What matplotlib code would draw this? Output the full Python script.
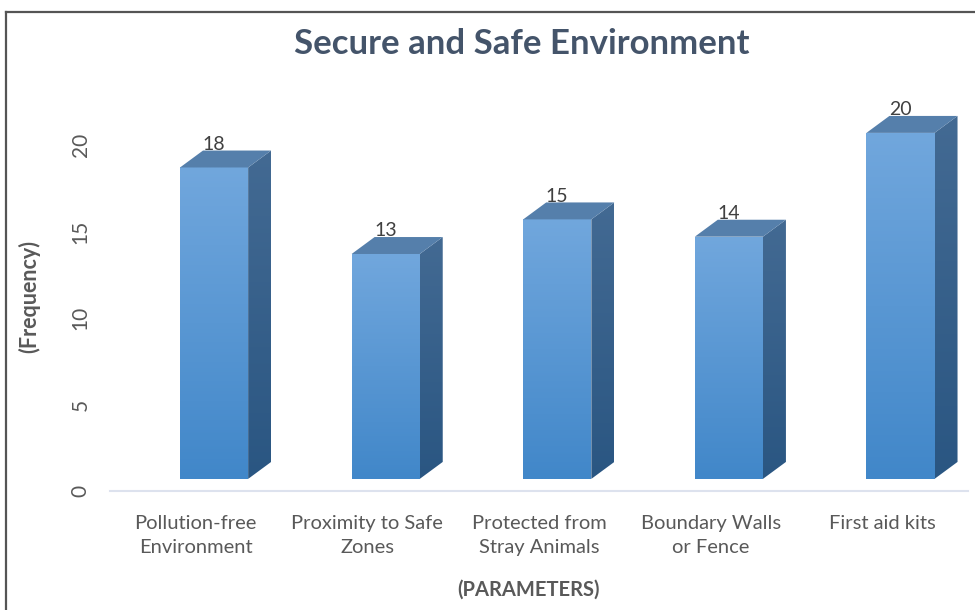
import numpy as np
import matplotlib
matplotlib.use("Agg")
import matplotlib.pyplot as plt
from matplotlib.patches import Polygon
from matplotlib.lines import Line2D

categories = ["Pollution-free\nEnvironment", "Proximity to Safe\nZones",
              "Protected from\nStray Animals", "Boundary Walls\nor Fence", "First aid kits"]
values = [18, 13, 15, 14, 20]
yticks = [0, 5, 10, 15, 20]

plt.rcParams['font.family'] = ['Lato', 'DejaVu Sans']

W, H = 975, 610
fig = plt.figure(figsize=(W / 100, H / 100), dpi=100)

# axes in pixel coords
ax_l, ax_r, ax_b, ax_t = 110, 968, 491, 100
ax = fig.add_axes([ax_l / W, 1 - ax_b / H, (ax_r - ax_l) / W, (ax_b - ax_t) / H])
px_per_unit = 17.3
ax.set_xlim(-0.5, len(values) - 0.5)
ax.set_ylim(0, (ax_b - ax_t) / px_per_unit)

# 3D geometry (in data units)
f_left, f_right = -0.092, 0.305
y0 = 0.70
ddx, ddy = 0.134, 0.98

def grad_fill(poly_xy, c_top, c_bot, ymin, ymax, xmin, xmax, zorder=2):
    poly = Polygon(poly_xy, closed=True, facecolor='none', edgecolor='none')
    ax.add_patch(poly)
    n = 256
    c1 = np.array(matplotlib.colors.to_rgb(c_top))
    c2 = np.array(matplotlib.colors.to_rgb(c_bot))
    t = np.linspace(0, 1, n)[:, None]
    img = (c1 * (1 - t) + c2 * t)[:, None, :]
    im = ax.imshow(img, extent=[xmin, xmax, ymin, ymax], origin='upper',
                   aspect='auto', zorder=zorder, interpolation='bilinear')
    im.set_clip_path(poly)

for i, v in enumerate(values):
    xl, xr = i + f_left, i + f_right
    yb, yt = y0, y0 + v
    # front face
    grad_fill([(xl, yb), (xr, yb), (xr, yt), (xl, yt)], '#71a7dd', '#4187c9',
              yb, yt, xl, xr)
    # right face
    grad_fill([(xr, yb), (xr + ddx, yb + ddy), (xr + ddx, yt + ddy), (xr, yt)],
              '#436a93', '#2a5682', yb, yt + ddy, xr, xr + ddx)
    # top face
    ax.add_patch(Polygon([(xl, yt), (xr, yt), (xr + ddx, yt + ddy), (xl + ddx, yt + ddy)],
                         closed=True, facecolor='#557fab', edgecolor='none', zorder=3))
    ax.text((xl + xr) / 2, yt + ddy + 0.35, str(v), ha='center', va='center',
            fontsize=14, color='#404040', zorder=5)

ax.set_xticks(range(len(values)))
ax.set_xticklabels(categories, fontsize=14.5, color='#595959', linespacing=1.5)
ax.tick_params(axis='x', length=0, pad=17)
ax.set_yticks(yticks)
ax.set_yticklabels([str(t) for t in yticks], rotation=90, va='center',
                   fontsize=15, color='#595959')
ax.tick_params(axis='y', length=0, pad=14)
for s in ['top', 'right', 'left']:
    ax.spines[s].set_visible(False)
ax.spines['bottom'].set_color('#dde2ee')
ax.spines['bottom'].set_linewidth(1.5)
ax.patch.set_alpha(0)

fig.text(522 / W, 1 - 44 / H, "Secure and Safe Environment", ha='center', va='center',
         fontsize=25, fontweight='bold', color='#44546a')
fig.text(529 / W, 1 - 590 / H, "(PARAMETERS)", ha='center', va='center',
         fontsize=14.5, fontweight='bold', color='#595959')
fig.text(29 / W, 1 - 297 / H, "(Frequency)", ha='center', va='center', rotation=90,
         fontsize=15.5, fontweight='bold', color='#595959')

# outer frame (top and left edges visible)
fig.add_artist(Line2D([5.5 / W, 1], [1 - 11.5 / H, 1 - 11.5 / H], color='#555555', lw=1.6,
                      transform=fig.transFigure))
fig.add_artist(Line2D([5.5 / W, 5.5 / W], [0, 1 - 11.5 / H], color='#555555', lw=1.6,
                      transform=fig.transFigure))

fig.savefig("out.png", dpi=100)
